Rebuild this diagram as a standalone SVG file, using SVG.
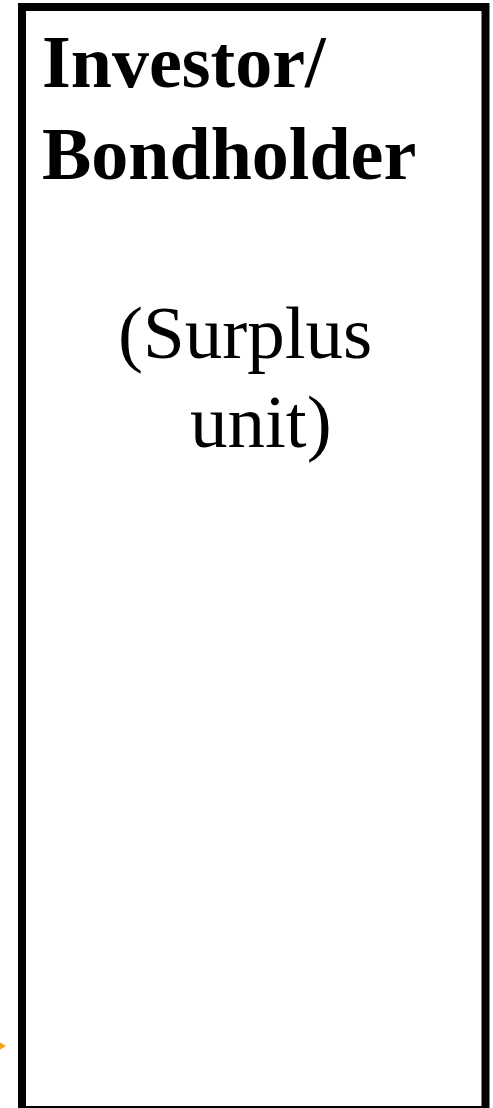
<svg xmlns="http://www.w3.org/2000/svg" width="493" height="1108" viewBox="0 0 493 1108">
<style>
.box{fill:#ffffff;stroke:#000000;stroke-width:8}
.title{font-family:"Liberation Serif",serif;font-weight:bold;font-size:74px;fill:#000}
.sub{font-family:"Liberation Serif",serif;font-size:75px;fill:#000}
</style>
<rect width="493" height="1108" fill="#ffffff"/>
<g id="connectors">
<polygon points="-1,1042 6,1046 -1,1050" fill="#f5a016"/>
</g>
<g id="investor">
<rect class="box" x="22" y="7" width="463.5" height="1103"/>
<text class="title" x="42" y="87">Investor/</text>
<text class="title" x="42" y="179">Bondholder</text>
<text class="sub" x="118" y="358">(Surplus</text>
<text class="sub" x="190" y="447">unit)</text>
</g>
</svg>
